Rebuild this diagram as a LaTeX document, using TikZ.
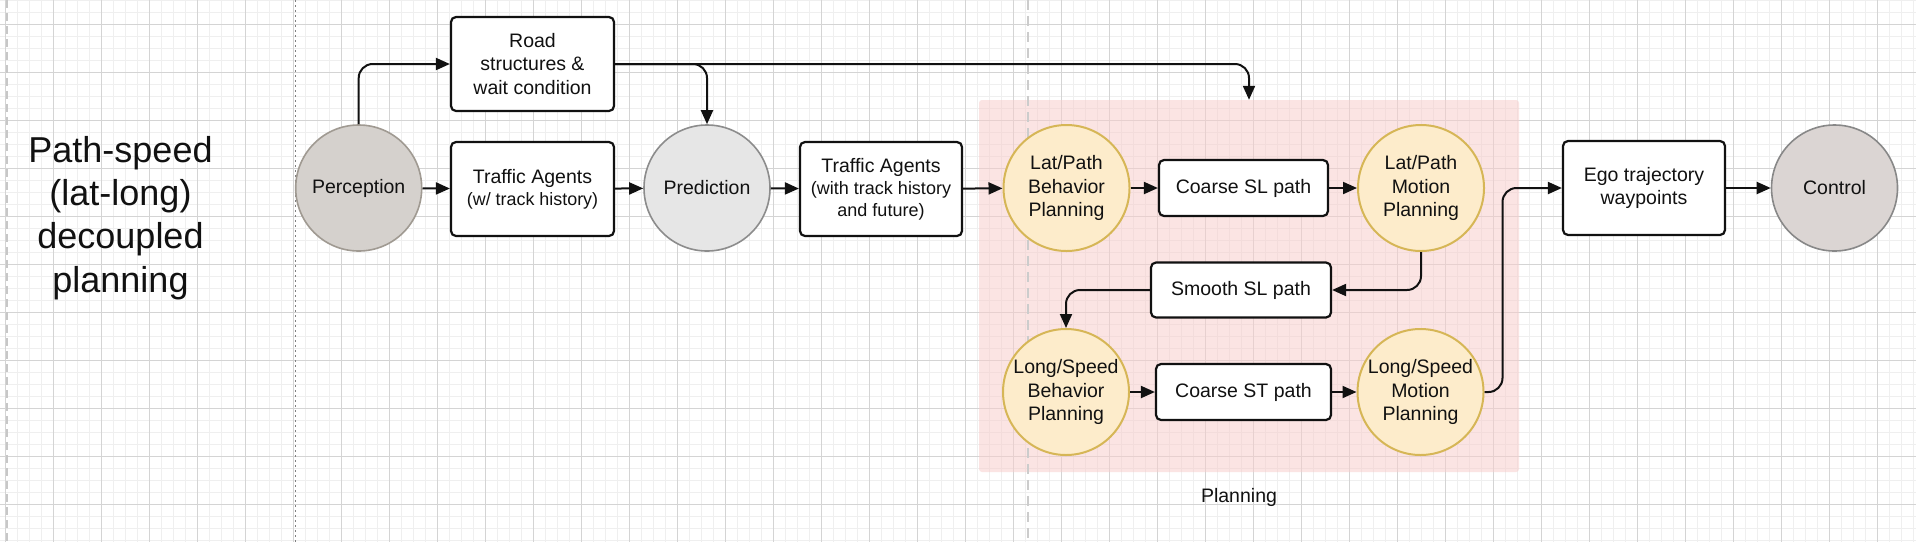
\documentclass[tikz,border=0pt]{standalone}
\usepackage{fontspec}
\setmainfont{Liberation Sans}
\usetikzlibrary{arrows.meta}
\definecolor{majgrid}{HTML}{D4D4D4}
\definecolor{mingrid}{HTML}{EFEFEF}
\definecolor{planfill}{HTML}{F8CECC}
\definecolor{yelfill}{HTML}{FDECCB}
\definecolor{yelline}{HTML}{D6B656}
\definecolor{percfill}{HTML}{D5D1CD}
\definecolor{percline}{HTML}{A09A92}
\definecolor{predfill}{HTML}{E6E6E6}
\definecolor{predline}{HTML}{8C8C8C}
\definecolor{ctrlfill}{HTML}{DBD5D3}
\definecolor{ctrlline}{HTML}{888888}
\definecolor{txt}{HTML}{111111}
\begin{document}
\begin{tikzpicture}[x=1pt,y=-1pt,
  mainfont/.style={font=\fontsize{19.5}{23.5}\selectfont},
  box/.style={draw=txt, line width=2.2pt, rounded corners=5pt, fill=white, align=center,
    inner sep=0pt, mainfont, text=txt},
  circ/.style={circle, minimum size=126pt, inner sep=0pt, align=center, line width=1.6pt,
    mainfont, text=txt},
  yel/.style={circ, draw=yelline, fill=yelfill, line width=2pt},
  conn/.style={draw=txt, line width=2pt, -{Triangle[length=14pt,width=12pt]}, rounded corners=14pt},
  mingridline/.style={draw=mingrid, line width=1.4pt},
  majgridline/.style={draw=majgrid, line width=1pt},
]
\useasboundingbox (0,0) rectangle (1916,542);
\fill[white] (0,0) rectangle (1916,542);
% grid
\foreach \k in {0,...,159} \draw[mingridline] ({5.3+12*\k},0) -- ({5.3+12*\k},542);
\foreach \k in {0,...,45} \draw[mingridline] (0,{0.3+12*\k}) -- (1916,{0.3+12*\k});
\foreach \k in {0,...,39} \draw[majgridline] ({5.3+48*\k},0) -- ({5.3+48*\k},542);
\foreach \k in {0,...,10} \draw[majgridline] (0,{24.3+48*\k}) -- (1916,{24.3+48*\k});
% planning container
\node[fill=planfill, fill opacity=0.55, rounded corners=3pt, minimum width=540pt, minimum height=372pt,
  inner sep=0pt] (plan) at (1249,286) {};
\node[mainfont, text=txt] (planlbl) at (1239,497) {Planning};
% dashed separators
\draw[draw=black!22, line width=2pt, dash pattern=on 8pt off 5pt] (7.3,0) -- (7.3,542);
\draw[draw=black!50, line width=1pt, dash pattern=on 2pt off 3pt] (295.3,0) -- (295.3,542);
\draw[draw=black!20, line width=2pt, dash pattern=on 10pt off 6pt] (1028,0) -- (1028,542);
% title
\node[align=center, font=\fontsize{36}{43.3}\selectfont, text=txt] (title) at (120.5,218)
  {Path-speed\\(lat-long)\\decoupled\\planning};
% nodes
\node[circ, draw=percline, fill=percfill] (perc) at (358.7,188) {Perception};
\node[box, minimum width=163pt, minimum height=94pt] (road) at (532.5,64) {Road\\structures \&\\wait condition};
\node[box, minimum width=163pt, minimum height=94pt] (ta1) at (532.5,189)
  {Traffic Agents\\[-1.5pt]{\fontsize{17.9}{22}\selectfont (w/ track history)}};
\node[circ, draw=predline, fill=predfill] (pred) at (707,188) {Prediction};
\node[box, minimum width=162pt, minimum height=94pt] (ta2) at (881,189)
  {Traffic Agents\\[-1.5pt]{\fontsize{18}{22}\selectfont (with track history}\\[-1.5pt]{\fontsize{18}{22}\selectfont and future)}};
\node[yel] (latbeh) at (1066.5,188) {Lat/Path\\Behavior\\Planning};
\node[box, minimum width=169pt, minimum height=56pt] (csl) at (1243.5,188) {Coarse SL path};
\node[yel] (latmot) at (1421,188) {Lat/Path\\Motion\\Planning};
\node[box, minimum width=180pt, minimum height=55pt] (ssl) at (1241,290) {Smooth SL path};
\node[yel] (longbeh) at (1066,392) {Long/Speed\\Behavior\\Planning};
\node[box, minimum width=175pt, minimum height=56pt] (cst) at (1243.5,392) {Coarse ST path};
\node[yel] (longmot) at (1420.5,392) {Long/Speed\\Motion\\Planning};
\node[box, minimum width=162pt, minimum height=94pt] (ego) at (1644,188) {Ego trajectory\\waypoints};
\node[circ, draw=ctrlline, fill=ctrlfill] (ctrl) at (1834.5,188) {Control};
% connectors
\draw[conn] (perc.north) |- (road.west);
\draw[conn] (perc) -- (ta1);
\draw[conn] (ta1) -- (pred);
\draw[conn] (road.east) -| (pred.north);
\draw[conn] (road.east) -| (plan.north);
\draw[conn] (pred) -- (ta2);
\draw[conn] (ta2) -- (latbeh);
\draw[conn] (latbeh) -- (csl);
\draw[conn] (csl) -- (latmot);
\draw[conn] (latmot.south) |- (ssl.east);
\draw[conn] (ssl.west) -| (longbeh.north);
\draw[conn] (longbeh) -- (cst);
\draw[conn] (cst) -- (longmot);
\draw[conn] (longmot.east) -- ++(18,0) |- (ego.west);
\draw[conn] (ego) -- (ctrl);
\end{tikzpicture}
\end{document}
